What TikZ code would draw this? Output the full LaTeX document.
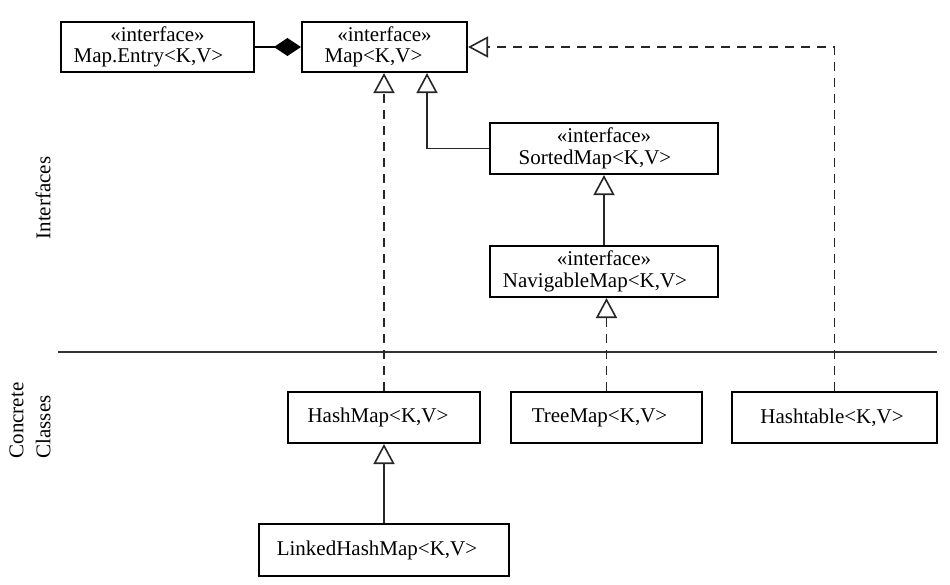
\documentclass[tikz,border=0pt]{standalone}
\usepackage{fontspec}
\setmainfont{Liberation Serif}
\usetikzlibrary{arrows.meta}
\begin{document}
\begin{tikzpicture}[x=1pt,y=-1pt,
  box/.style={draw=black, line width=2.1pt, fill=white, inner sep=0pt, align=center,
    font=\fontsize{21}{21.5}\selectfont},
  inh/.style={-{Triangle[open,length=20pt,width=21pt,fill=white]}, line width=1.6pt, draw=black!85},
  realize/.style={inh, dash pattern=on 9pt off 7pt},
  lbl/.style={rotate=90, inner sep=0pt, font=\fontsize{21}{27}\selectfont}
]
\useasboundingbox (0,0) rectangle (950,585);

% nodes
\node[box, minimum width=193pt, minimum height=50pt] (entry) at (157.5,47)
  {«interface»\\Map.Entry<K,V>\hspace*{18pt}};
\node[box, minimum width=165pt, minimum height=50pt] (map) at (384.5,47)
  {«interface»\\Map<K,V>\hspace*{22pt}};
\node[box, minimum width=228pt, minimum height=51pt] (sorted) at (604,148.5)
  {«interface»\\SortedMap<K,V>\hspace*{18pt}};
\node[box, minimum width=228pt, minimum height=51pt] (nav) at (604,271.5)
  {«interface»\\NavigableMap<K,V>\hspace*{18pt}};
\node[box, minimum width=192pt, minimum height=51pt] (hash) at (384,417.5)
  {HashMap<K,V>\hspace*{12pt}};
\node[box, minimum width=191pt, minimum height=51pt] (tree) at (606.5,417.5)
  {TreeMap<K,V>\hspace*{14pt}};
\node[box, minimum width=205pt, minimum height=51pt] (table) at (834.5,417.5)
  {Hashtable<K,V>\hspace*{5pt}};
\node[box, minimum width=250pt, minimum height=52pt] (linked) at (384,550)
  {LinkedHashMap<K,V>\hspace*{14pt}};

% section labels
\node[lbl] (lint) at (43,198) {Interfaces};
\node[lbl, align=left] (lconc) at (30,420.5) {Concrete\\Classes};

% divider
\coordinate (divl) at (58,352);
\coordinate (divr) at (937,352);
\draw[line width=1.3pt, draw=black!80] (divl) -- (divr);

% connectors
\draw[line width=1.6pt, -{Diamond[length=27pt,width=18pt,fill=black]}] (entry.east) -- (map.west);
\draw[realize] (hash.north) -- (hash.north |- map.south);
\draw[inh] (sorted.west) -| ([xshift=42.5pt]map.south);
\draw[inh] (nav.north) -- (sorted.south);
\draw[realize] (tree.north) -- (tree.north |- nav.south);
\draw[realize] (table.north) |- (map.east);
\draw[inh] (linked.north) -- (hash.south);
\end{tikzpicture}
\end{document}
